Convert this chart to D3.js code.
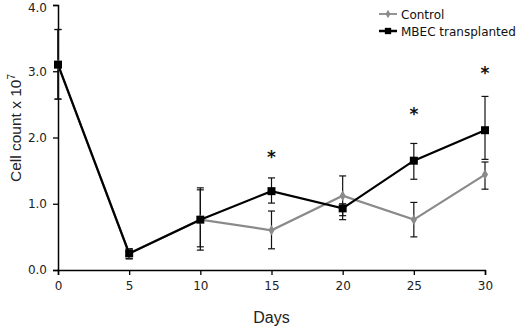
<!DOCTYPE html>
<html>
<head>
<meta charset="utf-8">
<script src="https://cdn.jsdelivr.net/npm/d3@7"></script>
<style>
  body { margin: 0; background: #fff; }
  svg { display: block; }
</style>
</head>
<body>
<div id="chart"></div>
<script>
const days = [0, 5, 10, 15, 20, 25, 30];
const controlMean = [3.10, 0.25, 0.76, 0.60, 1.12, 0.76, 1.44];
const controlHi   = [3.63, 0.32, 1.21, 0.89, 1.42, 1.02, 1.63];
const controlLo   = [2.58, 0.17, 0.35, 0.32, 0.82, 0.50, 1.22];
const mbecMean    = [3.10, 0.25, 0.76, 1.19, 0.93, 1.65, 2.11];
const mbecHi      = [3.63, 0.32, 1.24, 1.39, 1.00, 1.91, 2.62];
const mbecLo      = [2.58, 0.17, 0.30, 1.01, 0.76, 1.37, 1.67];
const starDays = [15, 25, 30];
const starValues = [1.74, 2.38, 3.0];
const yTicks = [0, 1, 2, 3, 4];

const W = 520, H = 333;
const m = {left: 58, right: 35, top: 5, bottom: 63};

const svg = d3.select('#chart').append('svg')
    .attr('width', W)
    .attr('height', H);

const x = d3.scaleLinear().domain([0, 30]).range([m.left, W - m.right]);
const y = d3.scaleLinear().domain([0, 4]).range([H - m.bottom, m.top]);

// axes
const xAxis = svg.append('g')
    .attr('transform', `translate(0,${H - m.bottom})`)
    .call(d3.axisBottom(x).tickValues(days).tickSize(5).tickPadding(6).tickFormat(d3.format('d')));
const yAxis = svg.append('g')
    .attr('transform', `translate(${m.left},0)`)
    .call(d3.axisLeft(y).tickValues(yTicks).tickSize(5).tickPadding(6).tickFormat(d3.format('.1f')));

[xAxis, yAxis].forEach(g => {
    g.select('.domain').attr('stroke', '#000').attr('stroke-width', 1.5);
    g.selectAll('.tick line').attr('stroke', '#000').attr('stroke-width', 1.3);
    g.selectAll('text')
        .attr('font-family', 'Verdana, "DejaVu Sans", sans-serif')
        .attr('font-size', 12)
        .attr('fill', '#222');
});
// keep the top label inside the frame
yAxis.selectAll('.tick text').filter(d => d === 4).attr('dy', '0.5em');

// axis titles
svg.append('text')
    .attr('x', (m.left + W - m.right) / 2)
    .attr('y', 323)
    .attr('text-anchor', 'middle')
    .attr('font-family', '"Liberation Sans", Arial, sans-serif')
    .attr('font-size', 16)
    .attr('fill', '#222')
    .text('Days');

const yt = svg.append('text')
    .attr('transform', `translate(21,128) rotate(-90)`)
    .attr('text-anchor', 'middle')
    .attr('font-family', '"Liberation Sans", Arial, sans-serif')
    .attr('font-size', 15.5)
    .attr('fill', '#222');
yt.append('tspan').text('Cell count x 10');
yt.append('tspan').attr('dy', -6).attr('font-size', 10).text('7');

const series = [
    {name: 'Control', mean: controlMean, hi: controlHi, lo: controlLo, color: '#8a8a8a', symbol: d3.symbolDiamond, size: 32},
    {name: 'MBEC transplanted', mean: mbecMean, hi: mbecHi, lo: mbecLo, color: '#000', symbol: d3.symbolSquare, size: 64}
];

// error bars
series.forEach(s => {
    const g = svg.append('g').attr('stroke', '#111').attr('stroke-width', 1.2);
    days.forEach((d, i) => {
        g.append('line')
            .attr('x1', x(d)).attr('x2', x(d))
            .attr('y1', y(s.hi[i])).attr('y2', y(s.lo[i]));
        [s.hi[i], s.lo[i]].forEach(v => {
            g.append('line')
                .attr('x1', x(d) - 3.5).attr('x2', x(d) + 3.5)
                .attr('y1', y(v)).attr('y2', y(v));
        });
    });
});

// lines and markers
const line = d3.line().x(d => x(d[0])).y(d => y(d[1]));
series.forEach(s => {
    const pts = days.map((d, i) => [d, s.mean[i]]);
    svg.append('path')
        .datum(pts)
        .attr('d', line)
        .attr('fill', 'none')
        .attr('stroke', s.color)
        .attr('stroke-width', 2.2);
    svg.append('g').selectAll('path')
        .data(pts)
        .join('path')
        .attr('d', d3.symbol().type(s.symbol).size(s.size))
        .attr('transform', d => `translate(${x(d[0])},${y(d[1])})`)
        .attr('fill', s.color);
});

// significance stars
svg.append('g').selectAll('text')
    .data(starDays.map((d, i) => [d, starValues[i]]))
    .join('text')
    .attr('x', d => x(d[0]))
    .attr('y', d => y(d[1]) + 8)
    .attr('text-anchor', 'middle')
    .attr('font-family', '"DejaVu Sans", sans-serif')
    .attr('font-weight', 'bold')
    .attr('font-size', 17)
    .attr('fill', '#111')
    .text('*');

// legend
const legend = svg.append('g').attr('transform', 'translate(379,14)');
series.forEach((s, i) => {
    const row = legend.append('g').attr('transform', `translate(0,${i * 17})`);
    row.append('line')
        .attr('x1', 0).attr('x2', 18)
        .attr('stroke', s.color)
        .attr('stroke-width', i ? 2.5 : 1.8);
    row.append('path')
        .attr('d', d3.symbol().type(s.symbol).size(i ? 40 : 20))
        .attr('transform', 'translate(9,0)')
        .attr('fill', s.color);
    row.append('text')
        .attr('x', 22)
        .attr('y', 4.5)
        .attr('font-family', 'Verdana, "DejaVu Sans", sans-serif')
        .attr('font-size', 12)
        .attr('fill', '#111')
        .text(s.name);
});
</script>
</body>
</html>
